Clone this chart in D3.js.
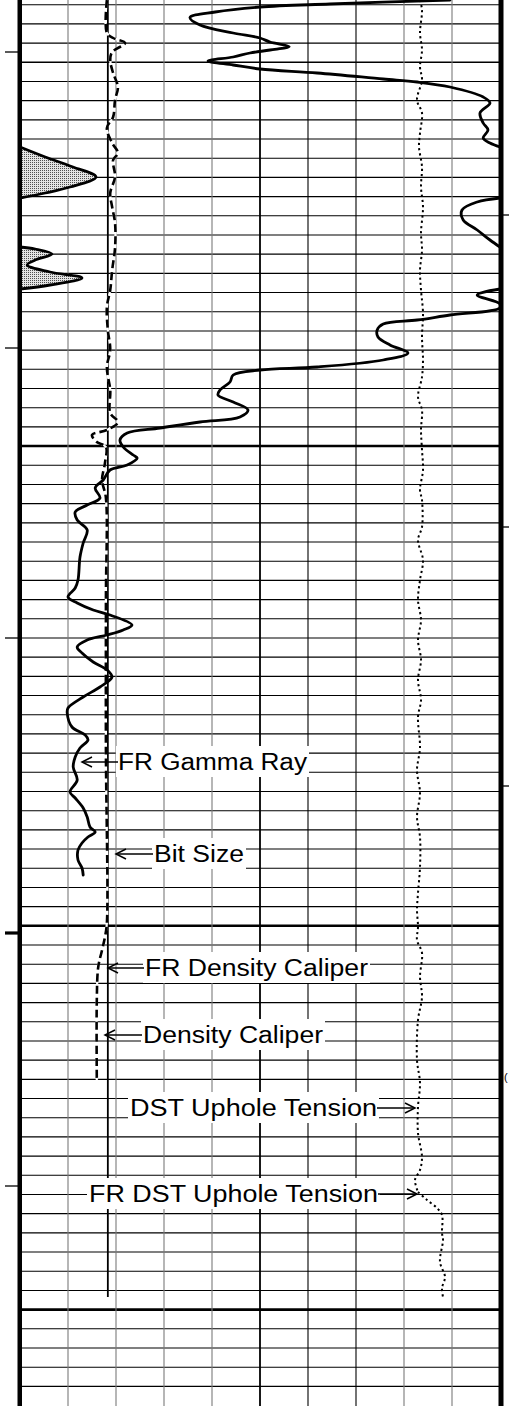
<!DOCTYPE html>
<html><head><meta charset="utf-8">
<script src="https://cdn.jsdelivr.net/npm/d3@7"></script>
<style>html,body{margin:0;padding:0;background:#fff;}svg{display:block;}</style>
</head><body>
<div id="chart"></div>
<script>
// ---------------- DATA ----------------
// depth in track units (10 px per unit), GR in API (0-120 across track)
const grTop = [[0,107.5],[0.4,77.5],[0.7,60],[1.2,48.8],[1.75,42.5],[2.5,45],[3.3,53.3],[3.8,60],[4.2,62.5],[4.65,67.3],[5.0,62.5],[5.3,57.5],[5.7,53.3],[6.1,47],[6.5,53.3],[6.9,60],[7.3,74.3],[7.9,90.8],[8.2,99.3],[8.7,107.5],[9.7,115.8],[10.3,117.5],[11.3,115],[12.3,115.8],[13.0,117],[13.8,115.8],[14.3,117.5],[14.7,120]];
const grWrap1 = [[14.7,0],[15.7,6.3],[16.6,12.5],[17.7,19],[18.7,12.5],[19.3,6.3],[19.8,0]];
const grMid = [[19.8,120],[20.2,114.3],[21.0,110.5],[22.0,110.8],[23.0,114.3],[24.0,117.5],[24.7,120]];
const grWrap2 = [[24.7,0],[24.9,3.8],[25.4,8],[26.0,3.8],[26.5,1.8],[27.2,7.5],[27.8,15.5],[28.5,7.5],[28.9,0]];
const grBottom = [[28.9,120],[29.5,114.3],[30.4,120],[30.8,120],[31.5,107.5],[32.0,99.3],[32.4,90.8],[33.0,89.3],[33.7,89.5],[34.5,92.5],[35.3,97],[36.0,90.8],[36.7,74.3],[37.0,60],[37.5,53.3],[38.2,52.5],[39.0,50],[39.5,49.5],[40.2,53.3],[41.0,57],[41.7,55],[42.2,45],[42.8,35],[43.3,26.8],[44.0,25],[44.7,25.8],[45.5,28.3],[45.8,29.3],[46.5,26.8],[47.0,22.5],[48.0,20.8],[48.8,18.8],[49.8,20],[50.5,16.8],[51.2,13.8],[52.0,14.3],[53.0,16.8],[54.3,15.8],[55.7,15],[58.0,14.5],[58.8,13.8],[59.7,12],[60.3,14.3],[61.0,18.3],[61.5,22.5],[62.5,28],[63.0,25.8],[63.5,21.8],[64.0,16.8],[64.7,14.3],[65.3,15.5],[66.2,18.3],[67.0,21.8],[67.7,23],[68.7,20],[69.7,15.8],[70.8,12],[71.3,11.8],[72.7,13],[73.5,16.3],[74.0,17],[74.8,15],[75.7,13.8],[76.7,13.3],[78.0,14.3],[79.2,12.5],[79.8,13.8],[80.8,15.8],[81.7,16.8],[82.7,17.5],[83.2,18.8],[83.7,17],[84.3,15.5],[85.0,14.5],[86.0,14.5],[86.8,15.5],[87.5,15.8]];

// Caliper in inches (6-16 across track)
const bitSize = 7.83;
const bitSizeDepths = [0, 129.7];
const densityCaliper = [[0,7.81],[3.3,7.81],[3.8,7.94],[4.3,8.19],[5.2,7.92],[6.0,7.88],[7.3,7.94],[8.7,8.04],[10.0,7.98],[11.7,7.94],[12.8,7.81],[14.3,7.92],[15.3,8.04],[16.0,7.94],[17.7,7.98],[19.3,7.88],[20.7,7.92],[22.3,7.98],[24.8,7.98],[27.0,7.92],[29.0,7.88],[30.7,7.81],[33.0,7.83],[35.0,7.88],[36.7,7.81],[39.0,7.88],[41.3,7.88],[42.2,8.04],[43.0,7.81],[43.5,7.5],[44.2,7.6],[44.7,7.79],[46.3,7.77],[48.0,7.71],[49.8,7.79],[60,7.79],[75,7.79],[92.3,7.81],[93.7,7.77],[95.0,7.71],[96.7,7.63],[100,7.6],[108,7.6]];

// Tension in lbs (0-4800 across track)
const dstTension = [[0,4000],[1.0,4020],[3.3,4000],[5.0,4020],[6.7,4000],[8.0,4020],[10.0,3970],[11.3,4020],[13.3,4000],[14.7,3990],[16.7,4020],[18.7,4010],[20.7,4030],[23.3,4010],[25.0,4020],[27.0,4000],[29.0,4010],[31.3,4030],[33.7,4020],[36.0,4030],[37.7,4020],[39.7,3980],[41.0,4020],[43.0,4010],[45.0,4020],[47.0,4030],[49.0,4000],[50.0,4020],[52.7,4020],[54.0,3980],[56.0,4030],[58.0,4000],[60.0,3980],[62.0,4010],[64.0,3980],[66.0,4010],[68.0,3980],[70.0,4010],[71.7,3980],[74.8,4000],[77.0,3970],[79.3,4000],[81.7,3970],[83.7,4000],[86.7,4000],[89.3,3980],[91.0,3970],[92.7,3980],[94.0,3970],[95.3,4020],[97.7,4000],[99.7,4020],[102.0,3980],[106.0,3970],[108.3,4000],[110.7,3980],[113.3,3980],[115.7,4020],[117.0,4000],[118.0,3950],[119.2,3980]];
const frDstTension = [[119.2,3980],[120.0,4070],[120.8,4170],[121.5,4220],[123.3,4220],[124.0,4230],[126.2,4200],[127.7,4250],[128.8,4220],[129.7,4230]];

// Labels (curve names)
const labelTexts = ["FR Gamma Ray","Bit Size","FR Density Caliper","Density Caliper","DST Uphole Tension","FR DST Uphole Tension"];

// Depth tick marks
const leftTicks = [5.2, 34.8, 63.8, 118.6];
const leftMajorTicks = [93.3];
const rightTicks = [21.5, 52.7, 78.6];
const rightMarkText = "(";
const rightMarkDepth = 108.1;

// Grid rows
const gridTop = 0.47, gridStep = 1.919, gridCount = 73;
const heavyRows = [23, 48, 68];
const mediumRows = [3];

// ---------------- LAYOUT ----------------
const W = 509, H = 1406;
const trackL = 20, trackR = 500;
const y = d3.scaleLinear().domain([0, 140.6]).range([0, H]);
const grX = d3.scaleLinear().domain([0, 120]).range([trackL, trackR]);
const calX = d3.scaleLinear().domain([6, 16]).range([trackL, trackR]);
const tenX = d3.scaleLinear().domain([0, 4800]).range([trackL, trackR]);

// label layout (pixels)
const labelLayout = [
  {tx:118, base:770, w:189, a0:82, a1:118, dir:"left"},
  {tx:154, base:862, w:90, a0:116, a1:153, dir:"left"},
  {tx:145, base:976, w:223, a0:108, a1:144, dir:"left"},
  {tx:143, base:1043, w:180, a0:105, a1:142, dir:"left"},
  {tx:130, base:1116, w:247, a0:377, a1:415, dir:"right"},
  {tx:89, base:1202, w:289, a0:378, a1:417, dir:"right"}
];

const svg = d3.select("#chart").append("svg").attr("width", W).attr("height", H);
const defs = svg.append("defs");
const pat = defs.append("pattern").attr("id","stip").attr("width",2).attr("height",2).attr("patternUnits","userSpaceOnUse");
pat.append("rect").attr("width",2).attr("height",2).attr("fill","#e4e4e4");
pat.append("rect").attr("width",1).attr("height",1).attr("fill","#505050");

svg.append("rect").attr("width",W).attr("height",H).attr("fill","#fff");

// horizontal grid
const rows = d3.range(gridCount);
svg.append("g").selectAll("line").data(rows).join("line")
  .attr("x1", trackL).attr("x2", trackR)
  .attr("y1", i => y(gridTop + gridStep*i)).attr("y2", i => y(gridTop + gridStep*i))
  .attr("stroke", "#000").attr("stroke-width", i => heavyRows.includes(i) ? 2.6 : (mediumRows.includes(i) ? 1.7 : 1.1));

// vertical grid
const cols = d3.range(1, 10);
const colColor = i => (i >= 5 && i <= 7) ? "#000" : "#7a7a7a";
svg.append("g").selectAll("line").data(cols).join("line")
  .attr("x1", i => grX(i*12)).attr("x2", i => grX(i*12))
  .attr("y1", 0).attr("y2", H)
  .attr("stroke", colColor).attr("stroke-width", i => i === 5 ? 1.8 : 1.1);

const curve = d3.curveCatmullRom.alpha(0.5);

// GR backup fills
const grArea = d3.area().curve(curve).y(d => y(d[0])).x0(grX(0)).x1(d => grX(d[1]));
[grWrap1, grWrap2].forEach(seg => {
  svg.append("path").datum(seg).attr("d", grArea).attr("fill", "url(#stip)");
});

// Tension dotted
const tenLine = d3.line().curve(curve).x(d => tenX(d[1])).y(d => y(d[0]));
[dstTension, frDstTension].forEach(seg => {
  svg.append("path").datum(seg).attr("d", tenLine).attr("fill","none")
    .attr("stroke","#000").attr("stroke-width",2).attr("stroke-dasharray","2.2,3");
});

// Bit size
svg.append("line").attr("x1", calX(bitSize)).attr("x2", calX(bitSize))
  .attr("y1", y(bitSizeDepths[0])).attr("y2", y(bitSizeDepths[1]))
  .attr("stroke","#000").attr("stroke-width",1.8);

// Density caliper (white underlay + black dashes)
const calLine = d3.line().curve(curve).x(d => calX(d[1])).y(d => y(d[0]));
svg.append("path").datum(densityCaliper).attr("d", calLine).attr("fill","none")
  .attr("stroke","#fff").attr("stroke-width",2.2);
svg.append("path").datum(densityCaliper).attr("d", calLine).attr("fill","none")
  .attr("stroke","#000").attr("stroke-width",2.6).attr("stroke-dasharray","8,4");

// GR curves
const grLine = d3.line().curve(curve).x(d => grX(d[1])).y(d => y(d[0]));
[grTop, grWrap1, grMid, grWrap2, grBottom].forEach(seg => {
  svg.append("path").datum(seg).attr("d", grLine).attr("fill","none")
    .attr("stroke","#000").attr("stroke-width",2.8).attr("stroke-linejoin","round").attr("stroke-linecap","round");
});

// Labels
const lg = svg.append("g");
labelLayout.forEach((L, i) => {
  lg.append("rect").attr("x", L.tx - 2).attr("y", L.base - 24).attr("width", L.w + 4).attr("height", 31).attr("fill","#fff");
  lg.append("text").attr("x", L.tx).attr("y", L.base)
    .attr("font-family","'Liberation Sans', Arial, sans-serif").attr("font-size", 23)
    .attr("textLength", L.w).attr("lengthAdjust","spacingAndGlyphs")
    .attr("fill","#000").text(labelTexts[i]);
  const ay = L.base - 8;
  lg.append("line").attr("x1", L.a0).attr("x2", L.a1).attr("y1", ay).attr("y2", ay)
    .attr("stroke","#000").attr("stroke-width",1.5);
  const tip = L.dir === "left" ? L.a0 : L.a1;
  const back = L.dir === "left" ? tip + 10 : tip - 10;
  lg.append("path").attr("d", `M${back},${ay-5}L${tip},${ay}L${back},${ay+5}`)
    .attr("fill","none").attr("stroke","#000").attr("stroke-width",1.5);
});

// Borders
svg.append("rect").attr("x", 17.5).attr("y", 0).attr("width", 4.5).attr("height", H).attr("fill","#000");
svg.append("rect").attr("x", 498.5).attr("y", 0).attr("width", 5).attr("height", H).attr("fill","#000");

// Ticks
svg.append("g").selectAll("line").data(leftTicks).join("line")
  .attr("x1", 5).attr("x2", trackL).attr("y1", d => y(d)).attr("y2", d => y(d))
  .attr("stroke","#000").attr("stroke-width",1.3);
svg.append("g").selectAll("line").data(leftMajorTicks).join("line")
  .attr("x1", 5).attr("x2", trackL).attr("y1", d => y(d)).attr("y2", d => y(d))
  .attr("stroke","#000").attr("stroke-width",3.2);
svg.append("g").selectAll("line").data(rightTicks).join("line")
  .attr("x1", trackR).attr("x2", W).attr("y1", d => y(d)).attr("y2", d => y(d))
  .attr("stroke","#000").attr("stroke-width",1.3);
svg.append("text").attr("x", 504).attr("y", y(rightMarkDepth))
  .attr("font-family","'Liberation Sans', Arial, sans-serif").attr("font-size", 11)
  .attr("fill","#000").text(rightMarkText);
</script>
</body></html>
